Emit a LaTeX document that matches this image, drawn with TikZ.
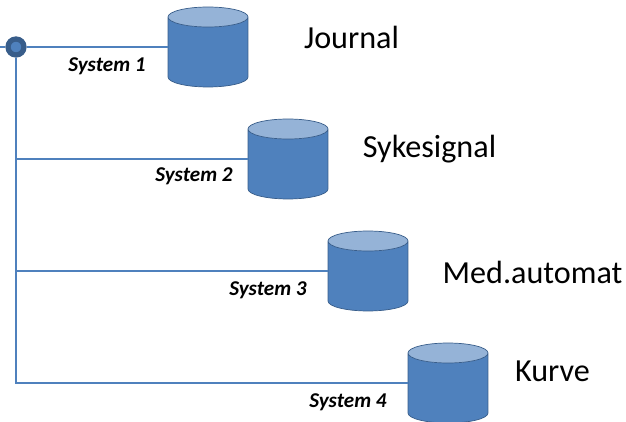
\documentclass[tikz,border=0pt]{standalone}
\usepackage{fontspec}
\setmainfont{Carlito}
\usetikzlibrary{shapes.geometric, positioning, calc}
\definecolor{barblue}{RGB}{79,129,189}
\definecolor{capblue}{RGB}{149,179,215}
\definecolor{edgeblue}{RGB}{56,93,138}
\newcommand{\storesize}{\rule{0pt}{0.4cm}\rule{0.4cm}{0pt}}
\tikzset{
    store/.style={cylinder, shape border rotate=90, aspect=1, draw=edgeblue, thin, cylinder uses custom fill, cylinder body fill=barblue, cylinder end fill=capblue, minimum width=1.6cm, minimum height=1.6cm, inner sep=0pt, anchor=shape center},
    link/.style={draw=barblue, line width=1.1pt},
    syslabel/.style={font=\fontsize{12}{14}\selectfont\bfseries\itshape, inner sep=0pt},
    dbname/.style={font=\fontsize{18.3}{22}\selectfont, inner sep=0pt}
}

\begin{document}
\begin{tikzpicture}[x=0.02cm, y=-0.02cm]
\useasboundingbox (0,0) rectangle (626,422);

% Databases
\node[store] (journal) at (208, 47) {\storesize};
\node[store] (sykesignal) at (288, 159) {\storesize};
\node[store] (medautomat) at (368, 271) {\storesize};
\node[store] (kurve) at (448, 383) {\storesize};

% Start point
\node[circle, draw=edgeblue, line width=3pt, fill=barblue, minimum size=0.32cm, inner sep=0pt] (start) at (16, 47) {};
\coordinate (stub) at (0, 47);

% Connections
\draw[link] (stub) -- (start);
\draw[link] (start) -- (journal.shape center -| journal.west);
\foreach \n in {sykesignal, medautomat, kurve} {
    \draw[link] (start) |- (\n.shape center -| \n.west);
}

% Labels
\node[syslabel] (sys1) at (107, 66) {System 1};
\node[syslabel] (sys2) at (194, 176) {System 2};
\node[syslabel] (sys3) at (268, 290) {System 3};
\node[syslabel] (sys4) at (348, 402) {System 4};

\node[dbname] (name1) at (351.5, 37) {Journal};
\node[dbname] (name2) at (429.5, 149) {Sykesignal};
\node[dbname] (name3) at (532.5, 272) {Med.automat};
\node[dbname] (name4) at (552.5, 371) {Kurve};
\end{tikzpicture}
\end{document}
